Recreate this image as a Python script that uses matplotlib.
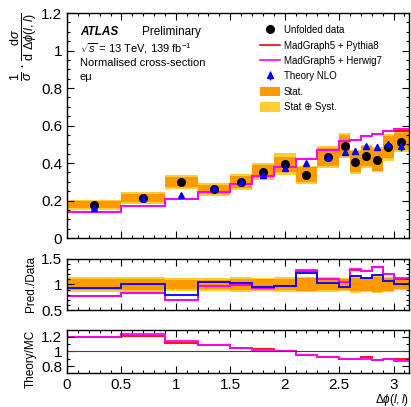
# ATLAS dilepton delta-phi, normalised cross-section, e-mu channel
import numpy as np
import matplotlib
matplotlib.use("Agg")
import matplotlib.pyplot as plt
from matplotlib.lines import Line2D
from matplotlib.patches import Patch
from matplotlib.ticker import MultipleLocator

plt.rcParams['font.family'] = ['Liberation Sans', 'DejaVu Sans']
plt.rcParams['mathtext.fontset'] = 'custom'
plt.rcParams['mathtext.rm'] = 'Liberation Sans'
plt.rcParams['mathtext.it'] = 'Liberation Sans:italic'
plt.rcParams['mathtext.sf'] = 'Liberation Sans'

# bin edges in delta phi
edges = [0.0, 0.5, 0.9, 1.2, 1.5, 1.7, 1.9, 2.1, 2.3, 2.5, 2.6, 2.7, 2.8, 2.9, 3.0, np.pi]

# unfolded data and relative uncertainties
data = [0.178, 0.213, 0.300, 0.260, 0.300, 0.354, 0.393, 0.338, 0.432, 0.492,
        0.407, 0.437, 0.418, 0.484, 0.514]
stat_rel = [0.11, 0.10, 0.09, 0.09, 0.11, 0.10, 0.10, 0.12, 0.11, 0.115,
            0.135, 0.12, 0.14, 0.12, 0.09]
tot_rel = [0.15, 0.15, 0.12, 0.13, 0.14, 0.13, 0.15, 0.145, 0.14, 0.135,
           0.16, 0.14, 0.16, 0.15, 0.11]

# predictions
pythia = [0.137, 0.172, 0.210, 0.245, 0.288, 0.329, 0.379, 0.423, 0.468, 0.516,
          0.524, 0.546, 0.555, 0.569, 0.569]
herwig = [0.137, 0.172, 0.210, 0.245, 0.288, 0.329, 0.379, 0.423, 0.468, 0.516,
          0.524, 0.546, 0.555, 0.569, 0.580]
theory = [0.160, 0.213, 0.231, 0.267, 0.300, 0.334, 0.373, 0.403, 0.430, 0.457,
          0.466, 0.489, 0.485, 0.503, 0.489]
theory_err = [0.005, 0.005, 0.005, 0.006, 0.006, 0.007, 0.008, 0.008, 0.010, 0.012,
              0.012, 0.014, 0.016, 0.015, 0.022]

# Pred./Data
pythia_data = [0.767, 0.833, 0.705, 0.967, 0.987, 0.933, 0.967, 1.27, 1.10, 1.05,
               1.29, 1.26, 1.34, 1.20, 1.11]
herwig_data = [0.767, 0.833, 0.695, 0.967, 0.987, 0.933, 0.967, 1.287, 1.10, 1.05,
               1.30, 1.27, 1.35, 1.21, 1.13]
theory_data = [0.933, 1.013, 0.80, 1.053, 1.033, 0.947, 0.98, 1.22, 1.033, 0.947,
               1.167, 1.133, 1.18, 1.067, 1.0]

# Theory/MC
theory_pythia = [1.20, 1.209, 1.12, 1.08, 1.044, 1.03, 1.0, 0.956, 0.925, 0.903,
                 0.903, 0.925, 0.889, 0.898, 0.903]
theory_herwig = [1.20, 1.236, 1.147, 1.09, 1.044, 1.022, 1.0, 0.956, 0.925, 0.903,
                 0.903, 0.903, 0.889, 0.898, 0.867]

edges = np.array(edges)
data = np.array(data)
stat_rel = np.array(stat_rel)
tot_rel = np.array(tot_rel)
centers = 0.5 * (edges[:-1] + edges[1:])

c_stat = '#ff9900'
c_tot = '#ffcc33'
c_py = '#ff0000'
c_hw = '#ff00ff'
c_th = '#0000ff'

fig = plt.figure(figsize=(4.11, 4.07), dpi=100)
ax1 = fig.add_axes([0.163, 0.415, 0.832, 0.553])
ax2 = fig.add_axes([0.163, 0.238, 0.832, 0.126])
ax3 = fig.add_axes([0.163, 0.0835, 0.832, 0.106])

# main panel
ax1.stairs(data * (1 + tot_rel), edges, baseline=data * (1 - tot_rel), fill=True, color=c_tot, lw=0)
ax1.stairs(data * (1 + stat_rel), edges, baseline=data * (1 - stat_rel), fill=True, color=c_stat, lw=0)
ax1.stairs(pythia, edges, color=c_py, lw=1.4, baseline=None)
ax1.stairs(herwig, edges, color=c_hw, lw=1.4, baseline=None)
th = ax1.errorbar(centers, theory, yerr=theory_err, fmt='^', color=c_th, ms=4.8, elinewidth=1.0, capsize=0)
ax1.plot(centers, data, 'o', color='black', ms=5.5)

ax1.set_xlim(0, np.pi)
ax1.set_ylim(0, 1.2)
ax1.set_ylabel(r'$\frac{1}{\sigma}\cdot\frac{\mathrm{d}\sigma}{\mathrm{d}\ \Delta\phi(l,l)}$',
               fontsize=13, loc='top', labelpad=1)

ax1.text(0.038, 0.915, 'ATLAS', transform=ax1.transAxes, fontsize=8.5, fontweight='bold',
         fontstyle='italic', va='center')
ax1.text(0.218, 0.915, 'Preliminary', transform=ax1.transAxes, fontsize=8.5, va='center')
ax1.text(0.038, 0.84, r'$\sqrt{s}$ = 13 TeV, 139 fb$^{-1}$', transform=ax1.transAxes,
         fontsize=8, va='center')
ax1.text(0.038, 0.78, 'Normalised cross-section', transform=ax1.transAxes, fontsize=8, va='center')
ax1.text(0.038, 0.715, 'eμ', transform=ax1.transAxes, fontsize=8, va='center')

handles = [Line2D([], [], marker='o', color='black', ls='none', ms=5.5),
           Line2D([], [], color=c_py, lw=1.2),
           Line2D([], [], color=c_hw, lw=1.2),
           th,
           Patch(facecolor=c_stat, edgecolor='none'),
           Patch(facecolor=c_tot, edgecolor='none')]
labels = ['Unfolded data', 'MadGraph5 + Pythia8', 'MadGraph5 + Herwig7', 'Theory NLO',
          'Stat.', 'Stat ⊕ Syst.']
ax1.legend(handles, labels, loc='upper left', bbox_to_anchor=(0.565, 0.945), frameon=False,
           fontsize=7, handlelength=2.0, handleheight=1.1, handletextpad=0.45,
           labelspacing=0.55, borderpad=0, borderaxespad=0)

# Pred./Data
ones = np.ones(len(data))
ax2.stairs(ones + tot_rel, edges, baseline=ones - tot_rel, fill=True, color=c_tot, lw=0)
ax2.stairs(ones + stat_rel, edges, baseline=ones - stat_rel, fill=True, color=c_stat, lw=0)
ax2.stairs(pythia_data, edges, color=c_py, lw=1.3, baseline=None)
ax2.stairs(herwig_data, edges, color=c_hw, lw=1.3, baseline=None)
ax2.stairs(theory_data, edges, color=c_th, lw=1.3, baseline=None)
ax2.set_xlim(0, np.pi)
ax2.set_ylim(0.5, 1.5)
ax2.set_ylabel('Pred./Data', fontsize=8.5, labelpad=3)

# Theory/MC
ax3.axhline(1.0, color='#444444', lw=0.8)
ax3.stairs(theory_pythia, edges, color=c_py, lw=1.3, baseline=None)
ax3.stairs(theory_herwig, edges, color=c_hw, lw=1.3, baseline=None)
ax3.set_xlim(0, np.pi)
ax3.set_ylim(0.71, 1.29)
ax3.set_ylabel('Theory/MC', fontsize=8.5, loc='top', labelpad=3)
ax3.set_xlabel(r'$\Delta\phi(l,l)$', fontsize=8.5, ha='right')
ax3.xaxis.set_label_coords(1.0, -0.43)

for ax in (ax1, ax2, ax3):
    ax.xaxis.set_major_locator(MultipleLocator(0.5))
    ax.xaxis.set_minor_locator(MultipleLocator(0.1))
    ax.tick_params(which='both', direction='in', top=True, right=True, labelsize=11, width=0.8)
    ax.tick_params(which='major', length=5)
    ax.tick_params(which='minor', length=2.5)
    for s in ax.spines.values():
        s.set_linewidth(1.0)
ax1.set_yticks([0, 0.2, 0.4, 0.6, 0.8, 1.0, 1.2])
ax1.set_yticklabels(['0', '0.2', '0.4', '0.6', '0.8', '1', '1.2'])
ax1.yaxis.set_minor_locator(MultipleLocator(0.05))
ax2.set_yticks([0.5, 1, 1.5])
ax2.set_yticklabels(['0.5', '1', '1.5'])
ax2.yaxis.set_minor_locator(MultipleLocator(0.1))
ax3.set_yticks([0.8, 1.0, 1.2])
ax3.set_yticklabels(['0.8', '1', '1.2'])
ax3.yaxis.set_minor_locator(MultipleLocator(0.1))
ax1.tick_params(labelbottom=False)
ax2.tick_params(labelbottom=False)
ax3.set_xticks([0, 0.5, 1, 1.5, 2, 2.5, 3])
ax3.set_xticklabels(['0', '0.5', '1', '1.5', '2', '2.5', '3'])

fig.savefig('out.png', dpi=100)
